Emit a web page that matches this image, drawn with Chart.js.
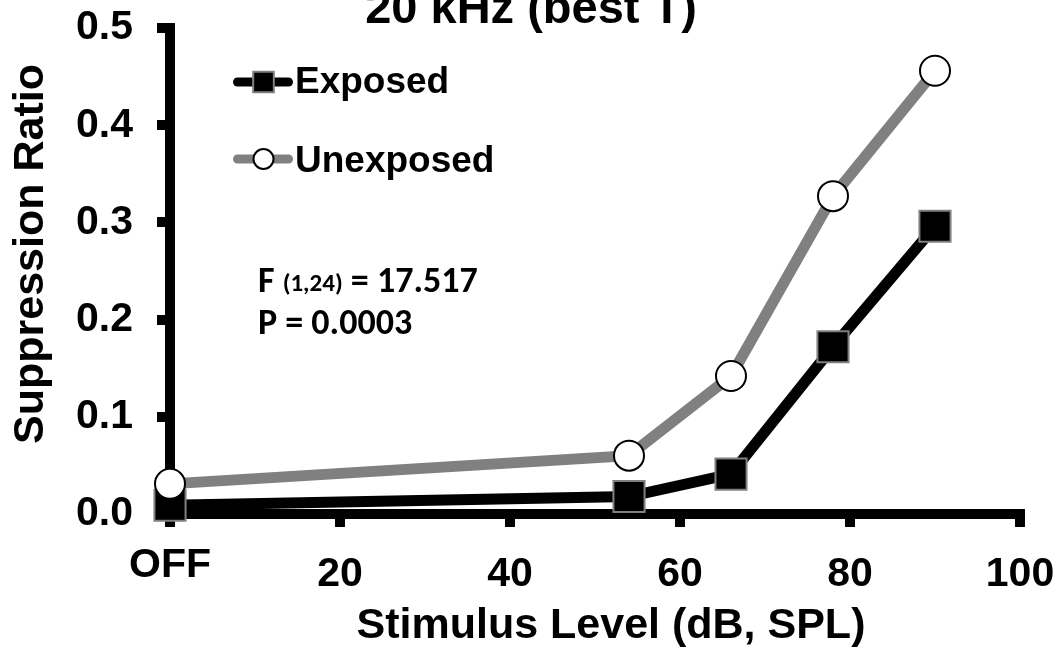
<!DOCTYPE html>
<html>
<head>
<meta charset="utf-8">
<title>20 kHz (best T)</title>
<script src="https://cdn.jsdelivr.net/npm/chart.js@4.4.1/dist/chart.umd.min.js"></script>
<style>
  html, body { margin: 0; padding: 0; background: #ffffff; }
  canvas { display: block; }
</style>
</head>
<body>
<canvas id="chart" width="1057" height="649"></canvas>
<script>
// Stimulus levels (dB SPL); 0 stands for the "OFF" condition
const levels = [0, 54, 66, 78, 90];
// Mean suppression ratio per group
const exposed = [0.009, 0.018, 0.041, 0.172, 0.296];
const unexposed = [0.031, 0.060, 0.142, 0.327, 0.456];

const xTickValues = [0, 20, 40, 60, 80, 100];
const xTickLabels = ['OFF', '20', '40', '60', '80', '100'];
const yTickValues = [0, 0.1, 0.2, 0.3, 0.4, 0.5];
const yTickLabels = ['0.0', '0.1', '0.2', '0.3', '0.4', '0.5'];

const seriesNames = ['Exposed', 'Unexposed'];
const chartTitle = '20 kHz (best T)';
const xTitle = 'Stimulus Level (dB, SPL)';
const yTitle = 'Suppression Ratio';
const statF = 'F';
const statDf = '(1,24)';
const statFValue = '= 17.517';
const statP = 'P = 0.0003';

const ARIAL = '"Liberation Sans", Arial, Helvetica, sans-serif';
const STAT_FONT = 'Carlito, Calibri, Lato, "Open Sans", sans-serif';

const toPoints = ys => ys.map((y, i) => ({ x: levels[i], y: y }));

// Figure texts: title, axis titles, legend and the statistics note
const figureText = {
  id: 'figureText',
  afterDraw(chart) {
    const ctx = chart.ctx;
    const area = chart.chartArea;
    ctx.save();
    ctx.fillStyle = '#000';
    ctx.textBaseline = 'alphabetic';

    // title
    ctx.font = 'bold 47px ' + ARIAL;
    ctx.textAlign = 'center';
    ctx.fillText(chartTitle, 531, 23);

    // x axis title
    ctx.font = 'bold 43px ' + ARIAL;
    ctx.fillText(xTitle, area.left + (area.right - area.left) / 2 + 16, 638);

    // y axis title
    ctx.save();
    ctx.translate(43, 254);
    ctx.rotate(-Math.PI / 2);
    ctx.fillText(yTitle, 0, 0);
    ctx.restore();

    // legend
    ctx.textAlign = 'left';
    const rows = [82, 159];
    const textBase = [93, 172];
    chart.data.datasets.forEach((ds, i) => {
      const y = rows[i];
      ctx.save();
      ctx.lineWidth = 9;
      ctx.lineCap = 'round';
      ctx.strokeStyle = ds.borderColor;
      ctx.beginPath();
      ctx.moveTo(237.5, y);
      ctx.lineTo(288.5, y);
      ctx.stroke();
      ctx.fillStyle = ds.pointBackgroundColor;
      ctx.strokeStyle = ds.pointBorderColor;
      ctx.lineWidth = ds.pointBorderWidth;
      Chart.helpers.drawPoint(ctx, {
        pointStyle: ds.pointStyle,
        radius: ds.pointStyle === 'rect' ? 14.6 : 10,
        borderWidth: ds.pointBorderWidth,
        rotation: 0
      }, 263.5, y);
      ctx.restore();
      ctx.font = 'bold 37px ' + ARIAL;
      ctx.fillText(ds.label, 295, textBase[i]);
    });

    // statistics note
    let x = 258;
    ctx.font = 'bold 36px ' + STAT_FONT;
    ctx.fillText(statF, x, 292);
    x += ctx.measureText(statF + ' ').width;
    ctx.font = 'bold 25px ' + STAT_FONT;
    ctx.fillText(statDf, x, 291);
    x += ctx.measureText(statDf).width;
    ctx.font = 'bold 36px ' + STAT_FONT;
    x += ctx.measureText(' ').width;
    ctx.fillText(statFValue, x, 292);
    ctx.fillText(statP, 258, 334);

    ctx.restore();
  }
};

new Chart(document.getElementById('chart'), {
  type: 'line',
  data: {
    datasets: [
      {
        label: seriesNames[0],
        data: toPoints(exposed),
        borderColor: '#000000',
        borderWidth: 11,
        pointStyle: 'rect',
        pointRadius: 22,
        pointBackgroundColor: '#000000',
        pointBorderColor: '#808080',
        pointBorderWidth: 2,
        tension: 0,
        clip: false,
        order: 2
      },
      {
        label: seriesNames[1],
        data: toPoints(unexposed),
        borderColor: '#808080',
        borderWidth: 11,
        pointStyle: 'circle',
        pointRadius: 15,
        pointBackgroundColor: '#ffffff',
        pointBorderColor: '#000000',
        pointBorderWidth: 2,
        tension: 0,
        clip: false,
        order: 1
      }
    ]
  },
  options: {
    responsive: false,
    animation: false,
    devicePixelRatio: 1,
    layout: { padding: { top: 28, right: 37, bottom: 0, left: 0 } },
    plugins: {
      legend: { display: false },
      tooltip: { enabled: false },
      title: { display: false }
    },
    scales: {
      x: {
        type: 'linear',
        min: 0,
        max: 100,
        afterBuildTicks: s => { s.ticks = xTickValues.map(v => ({ value: v })); },
        afterFit: s => {
          s.height = 135;
          s.paddingLeft = 0;
          s.paddingRight = 0;
        },
        ticks: {
          autoSkip: false,
          maxRotation: 0,
          padding: 23,
          color: '#000',
          callback: (v, i) => xTickLabels[i],
          font: c => ({ family: ARIAL, size: 41, weight: 'bold', lineHeight: c.index === 0 ? 0.78 : 1.2 })
        },
        grid: {
          drawOnChartArea: false,
          drawTicks: true,
          tickLength: 13,
          lineWidth: 10,
          tickWidth: 10,
          color: '#000',
          tickColor: '#000'
        },
        border: { display: true, width: 10, color: '#000' }
      },
      y: {
        type: 'linear',
        min: 0,
        max: 0.5,
        afterBuildTicks: s => { s.ticks = yTickValues.map(v => ({ value: v })); },
        afterFit: s => {
          s.width = 170;
          s.paddingTop = 0;
          s.paddingBottom = 0;
        },
        ticks: {
          autoSkip: false,
          padding: 24,
          color: '#000',
          callback: (v, i) => yTickLabels[i],
          font: { family: ARIAL, size: 41, weight: 'bold', lineHeight: 1.2 }
        },
        grid: {
          drawOnChartArea: false,
          drawTicks: true,
          tickLength: 13,
          lineWidth: 10,
          tickWidth: 10,
          color: '#000',
          tickColor: '#000'
        },
        border: { display: true, width: 10, color: '#000' }
      }
    }
  },
  plugins: [figureText]
});
</script>
</body>
</html>
